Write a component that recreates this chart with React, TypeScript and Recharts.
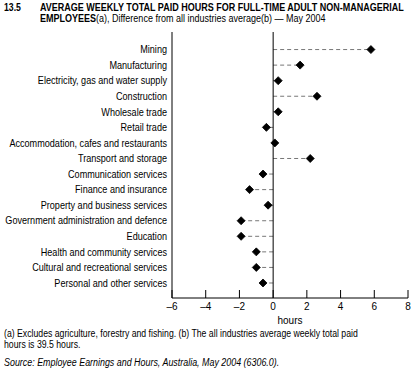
import { ComposedChart, Bar, XAxis, YAxis, ReferenceLine, Label } from 'recharts';

const industries = [
  'Mining',
  'Manufacturing',
  'Electricity, gas and water supply',
  'Construction',
  'Wholesale trade',
  'Retail trade',
  'Accommodation, cafes and restaurants',
  'Transport and storage',
  'Communication services',
  'Finance and insurance',
  'Property and business services',
  'Government administration and defence',
  'Education',
  'Health and community services',
  'Cultural and recreational services',
  'Personal and other services',
];

const hoursDiff = [5.8, 1.6, 0.3, 2.6, 0.3, -0.4, 0.1, 2.2, -0.6, -1.4, -0.3, -1.9, -1.9, -1.0, -1.0, -0.6];

const xTicks = [-6, -4, -2, 0, 2, 4, 6, 8];

const data = industries.map((name, i) => ({ name, diff: hoursDiff[i] }));

const font = "'Liberation Sans', Arial, sans-serif";
// no narrow font installed, so squash horizontally
const squeeze = 0.87;
const labelSqueeze = 0.91;
const titleSqueeze = 0.9;

const fmt = (v: number) => (v < 0 ? '\u2013' + Math.abs(v) : String(v));

function IndustryTick(props: any) {
  const { x, y, payload } = props;
  return (
    <text
      transform={`translate(${x},${y}) scale(${labelSqueeze},1)`}
      textAnchor="end"
      dy="0.35em"
      fontSize={10}
      fontFamily={font}
      fill="#000"
    >
      {payload.value}
    </text>
  );
}

// dashed leader from zero to the value, diamond at the end
function DotLine(props: any) {
  const { x, y, width, height, payload } = props;
  const cy = y + height / 2;
  const a = x;
  const b = x + width;
  const pos = payload.diff >= 0;
  const zero = pos ? Math.min(a, b) : Math.max(a, b);
  const end = pos ? Math.max(a, b) : Math.min(a, b);
  const r = 4;
  return (
    <g>
      <line x1={zero} x2={end} y1={cy} y2={cy} stroke="#777" strokeWidth={1} strokeDasharray="4 3" />
      <polygon
        points={`${end},${cy - r} ${end + r},${cy} ${end},${cy + r} ${end - r},${cy}`}
        fill="#000"
        stroke="#000"
        strokeWidth={0.8}
        strokeLinejoin="round"
      />
    </g>
  );
}

const squash: React.CSSProperties = {
  position: 'absolute',
  whiteSpace: 'nowrap',
  fontSize: 10,
  lineHeight: '11px',
  transform: `scaleX(${squeeze})`,
  transformOrigin: 'left top',
};

export default function App() {
  const tickStyle = { fontSize: 10, fill: '#000', fontFamily: font };
  return (
    <div style={{ position: 'absolute', left: 0, top: 0, width: 416, height: 378, fontFamily: font, color: '#000', background: '#fff', overflow: 'hidden' }}>
      <div style={{ ...squash, left: 4, top: 2, fontWeight: 'bold' }}>13.5</div>
      <div style={{ ...squash, left: 40, top: 2, fontWeight: 'bold', transform: `scaleX(${titleSqueeze})` }}>
        AVERAGE WEEKLY TOTAL PAID HOURS FOR FULL-TIME ADULT NON-MANAGERIAL
        <br />
        EMPLOYEES<span style={{ fontWeight: 'normal' }}>(a), Difference from all industries average(b) — May 2004</span>
      </div>
      <ComposedChart
        width={416}
        height={330}
        data={data}
        layout="vertical"
        margin={{ top: 32, right: 8, bottom: 0, left: 0 }}
        style={{ position: 'absolute', left: 0, top: 0 }}
      >
        <XAxis
          type="number"
          domain={[-6, 8]}
          ticks={xTicks}
          interval={0}
          tickFormatter={fmt}
          tickSize={-8}
          tickMargin={13}
          height={32}
          axisLine={{ stroke: '#000' }}
          tickLine={{ stroke: '#000' }}
          tick={tickStyle}
        >
          <Label value="hours" position="insideBottom" offset={6} style={{ fontSize: 10, fill: '#000', fontFamily: font }} />
        </XAxis>
        <XAxis
          xAxisId="top"
          orientation="top"
          type="number"
          domain={[-6, 8]}
          ticks={xTicks}
          interval={0}
          tick={false}
          tickSize={-8}
          height={0}
          axisLine={{ stroke: '#000' }}
          tickLine={{ stroke: '#000' }}
        />
        <YAxis
          type="category"
          dataKey="name"
          width={172}
          interval={0}
          tickLine={false}
          tickSize={0}
          tickMargin={5}
          padding={{ top: 10, bottom: 7 }}
          axisLine={{ stroke: '#000' }}
          tick={<IndustryTick />}
        />
        <YAxis
          yAxisId="right"
          orientation="right"
          type="category"
          dataKey="name"
          width={0}
          tick={false}
          tickLine={false}
          axisLine={{ stroke: '#000' }}
        />
        <ReferenceLine x={0} stroke="#000" strokeWidth={1} />
        <Bar dataKey="diff" shape={DotLine} isAnimationActive={false} />
      </ComposedChart>
      <div style={{ ...squash, left: 4, top: 328 }}>
        (a) Excludes agriculture, forestry and fishing. (b) The all industries average weekly total paid
        <br />
        hours is 39.5 hours.
      </div>
      <div style={{ ...squash, left: 4, top: 357, fontStyle: 'italic', transform: 'scaleX(0.89)' }}>
        Source: Employee Earnings and Hours, Australia, May 2004 (6306.0).
      </div>
    </div>
  );
}
